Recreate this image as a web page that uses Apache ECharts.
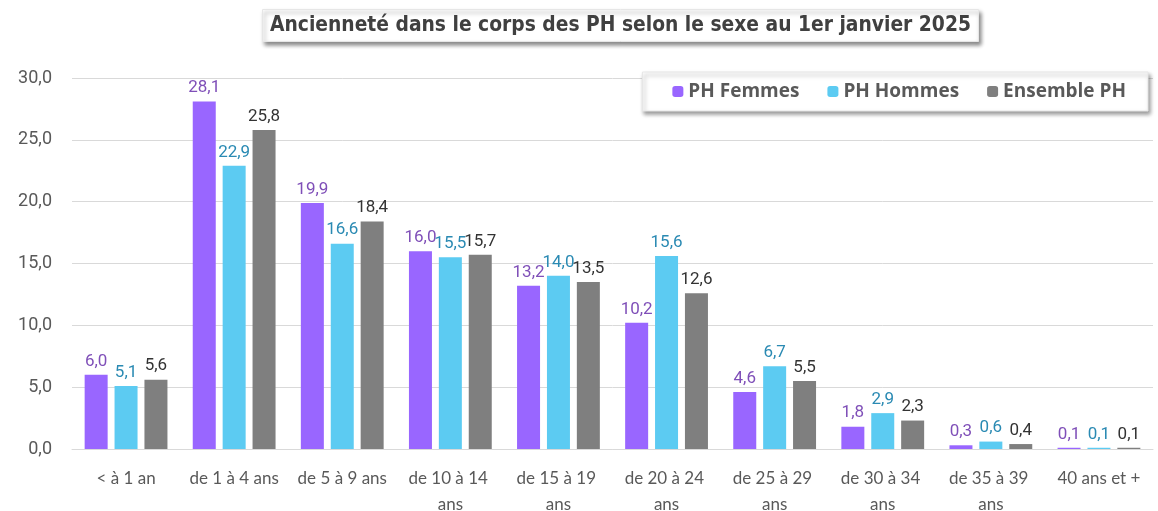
<!DOCTYPE html>
<html>
<head>
<meta charset="utf-8">
<script src="https://cdn.jsdelivr.net/npm/echarts@6/dist/echarts.min.js"></script>
<style>
  html, body { margin: 0; padding: 0; background: #ffffff; }
  #chart { width: 1158px; height: 511px; }
</style>
</head>
<body>
<div id="chart"></div>
<script>
// tranches d'ancienneté
const categories = ['< à 1 an', 'de 1 à 4 ans', 'de 5 à 9 ans', 'de 10 à 14 ans', 'de 15 à 19 ans',
  'de 20 à 24 ans', 'de 25 à 29 ans', 'de 30 à 34 ans', 'de 35 à 39 ans', '40 ans et +']
const femmes = [6.0, 28.1, 19.9, 16.0, 13.2, 10.2, 4.6, 1.8, 0.3, 0.1]
const hommes = [5.1, 22.9, 16.6, 15.5, 14.0, 15.6, 6.7, 2.9, 0.6, 0.1]
const ensemble = [5.6, 25.8, 18.4, 15.7, 13.5, 12.6, 5.5, 2.3, 0.4, 0.1]
const seriesNames = ['PH Femmes', 'PH Hommes', 'Ensemble PH']

const fmt = v => Number(v).toFixed(1).replace('.', ',')

const myChart = echarts.init(document.getElementById('chart'))

function barSerie (name, data, color, labelColor) {
  return {
    name: name,
    type: 'bar',
    data: data,
    barWidth: 23,
    barGap: '30%',
    itemStyle: { color: color },
    label: {
      show: true,
      position: 'top',
      distance: 5,
      color: labelColor,
      fontFamily: 'Roboto',
      fontSize: 17,
      formatter: p => fmt(p.value)
    }
  }
}

const option = {
  animation: false,
  title: {
    text: 'Ancienneté dans le corps des PH selon le sexe au 1er janvier 2025',
    left: 262,
    top: 9,
    padding: [6, 8, 6, 8],
    backgroundColor: '#ffffff',
    borderColor: '#e6e6e6',
    borderWidth: 1,
    shadowColor: 'rgba(0,0,0,0.45)',
    shadowBlur: 4,
    shadowOffsetX: 2,
    shadowOffsetY: 3,
    textStyle: {
      color: '#404040',
      fontFamily: 'DejaVu Sans Condensed',
      fontWeight: 'bold',
      fontSize: 20.8
    }
  },
  legend: {
    data: seriesNames,
    right: 10,
    top: 72,
    itemWidth: 11,
    itemHeight: 11,
    itemGap: 28,
    padding: [10, 22, 10, 30],
    backgroundColor: '#ffffff',
    borderColor: '#e6e6e6',
    borderWidth: 1,
    shadowColor: 'rgba(0,0,0,0.4)',
    shadowBlur: 4,
    shadowOffsetX: 2,
    shadowOffsetY: 3,
    textStyle: {
      color: '#595959',
      fontFamily: 'Open Sans',
      fontWeight: 'bold',
      fontSize: 19
    }
  },
  grid: {
    left: 72,
    right: 5,
    top: 78,
    bottom: 62,
    outerBoundsMode: 'none'
  },
  xAxis: {
    type: 'category',
    data: categories,
    axisLine: { lineStyle: { color: '#d9d9d9', width: 1 } },
    axisTick: { show: false },
    axisLabel: {
      color: '#595959',
      fontFamily: 'Lato',
      fontSize: 17,
      margin: 17,
      lineHeight: 26,
      width: 106,
      overflow: 'break',
      interval: 0
    }
  },
  yAxis: {
    type: 'value',
    min: 0,
    max: 30,
    interval: 5,
    axisLine: { show: false },
    axisTick: { show: false },
    splitLine: { lineStyle: { color: '#d9d9d9', width: 1 } },
    axisLabel: {
      color: '#595959',
      fontFamily: 'Roboto',
      fontSize: 18,
      margin: 20,
      formatter: v => fmt(v)
    }
  },
  series: [
    barSerie(seriesNames[0], femmes, '#9966ff', '#7f4fb8'),
    barSerie(seriesNames[1], hommes, '#5ccbf2', '#2a8ab3'),
    barSerie(seriesNames[2], ensemble, '#7f7f7f', '#333333')
  ]
}

myChart.setOption(option)
</script>
</body>
</html>
